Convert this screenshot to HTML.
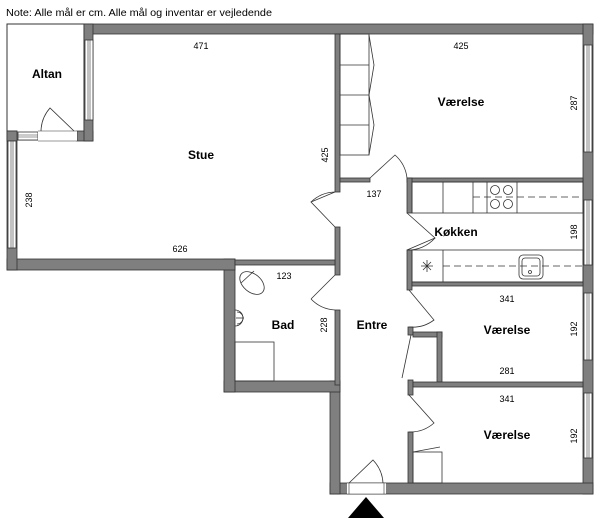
<!DOCTYPE html>
<html><head><meta charset="utf-8"><style>
html,body{margin:0;padding:0;background:#fff;}
svg{display:block;}
text{font-family:"Liberation Sans",sans-serif;fill:#000;}
.b{font-weight:bold;font-size:12px;}
.d{font-size:9px;}
</style></head><body>
<svg width="600" height="518" viewBox="0 0 600 518" xmlns="http://www.w3.org/2000/svg">
<text x="6" y="16" font-size="10.5" textLength="266" lengthAdjust="spacingAndGlyphs">Note: Alle mål er cm. Alle mål og inventar er vejledende</text>

<rect x="7" y="24" width="77" height="116" fill="#fff" stroke="#333" stroke-width="1"/>

<g fill="#7f7f7f" stroke="#333" stroke-width="0.8">
<rect x="84" y="24" width="509" height="10"/>
<rect x="583" y="24" width="10" height="470"/>
<rect x="330" y="483" width="263" height="11"/>
<rect x="330" y="381" width="10" height="113"/>
<rect x="224" y="381" width="116" height="11"/>
<rect x="224" y="259" width="11" height="133"/>
<rect x="7" y="259" width="228" height="11"/>
<rect x="7" y="131" width="10" height="139"/>
<rect x="7" y="131" width="10" height="10"/>
<rect x="77" y="131" width="16" height="10"/>
<rect x="84" y="24" width="9" height="117"/>
<rect x="335" y="34" width="5" height="158"/>
<rect x="335" y="227" width="5" height="48"/>
<rect x="335" y="310" width="5" height="75"/>
<rect x="235" y="260" width="100" height="5"/>
<rect x="340" y="178" width="30" height="4"/>
<rect x="407" y="178" width="176" height="4"/>
<rect x="407" y="178" width="5" height="35"/>
<rect x="407" y="250" width="5" height="40"/>
<rect x="412" y="282" width="171" height="4"/>
<rect x="408" y="327" width="5" height="8"/>
<rect x="408" y="380" width="5" height="15"/>
<rect x="413" y="332" width="29" height="5"/>
<rect x="437" y="332" width="5" height="50"/>
<rect x="413" y="382" width="170" height="5"/>
<rect x="408" y="432" width="5" height="51"/>
</g>

<g fill="#fff" stroke="#333" stroke-width="0.8">
<rect x="85" y="40" width="8" height="80"/>
<rect x="8" y="141" width="8" height="107"/>
<rect x="18" y="132" width="20" height="8"/>
<rect x="584" y="45" width="8" height="107"/>
<rect x="584" y="200" width="8" height="65"/>
<rect x="584" y="293" width="8" height="67"/>
<rect x="584" y="393" width="8" height="65"/>
<rect x="38" y="131" width="39" height="10" stroke="none"/>
<rect x="347" y="483" width="39" height="11" stroke="none"/>
</g>
<g stroke="#333" stroke-width="0.6" fill="none">
<line x1="88" y1="40" x2="88" y2="120"/><line x1="90" y1="40" x2="90" y2="120"/>
<line x1="11" y1="141" x2="11" y2="248"/><line x1="13" y1="141" x2="13" y2="248"/>
<line x1="18" y1="135" x2="38" y2="135"/><line x1="18" y1="137" x2="38" y2="137"/>
<line x1="587" y1="45" x2="587" y2="152"/><line x1="589" y1="45" x2="589" y2="152"/>
<line x1="587" y1="200" x2="587" y2="265"/><line x1="589" y1="200" x2="589" y2="265"/>
<line x1="587" y1="293" x2="587" y2="360"/><line x1="589" y1="293" x2="589" y2="360"/>
<line x1="587" y1="393" x2="587" y2="458"/><line x1="589" y1="393" x2="589" y2="458"/>
<line x1="38" y1="131" x2="77" y2="131"/><line x1="38" y1="141" x2="77" y2="141"/>
<line x1="347" y1="483" x2="386" y2="483"/><line x1="347" y1="494" x2="386" y2="494"/>
<line x1="349" y1="483" x2="349" y2="494"/><line x1="384" y1="483" x2="384" y2="494"/>
</g>

<g stroke="#333" stroke-width="0.8" fill="none">
<path d="M41 131 A36 36 0 0 1 50 108 L74 131"/>
<path d="M370 178 L395 155 A36 36 0 0 1 407 178"/>
<path d="M335 192 L311 202 L335 227"/>
<path d="M335 192 A36 36 0 0 0 311 202"/>
<path d="M407 213 L435 238 L407 250"/>
<path d="M435 238 A36 36 0 0 1 407 250"/>
<path d="M335 275 L311 299"/>
<path d="M311 299 A36 36 0 0 0 335 310"/>
<path d="M409 290 L434 320 A36 36 0 0 1 409 327"/>
<path d="M409 395 L434 423 A36 36 0 0 1 409 432"/>
<path d="M349 483 L373 460 A36 36 0 0 1 383 483"/>
<path d="M411 335 L402 378"/>
</g>

<g stroke="#333" stroke-width="0.8" fill="none">
<rect x="340" y="34" width="29" height="121"/>
<line x1="340" y1="65" x2="369" y2="65"/><line x1="340" y1="95" x2="369" y2="95"/><line x1="340" y1="125" x2="369" y2="125"/>
<path d="M369 35 L374 65 L369 95 L374 125 L369 155"/>
</g>

<g stroke="#333" stroke-width="0.8" fill="none">
<rect x="412" y="182" width="171" height="31"/>
<line x1="443" y1="182" x2="443" y2="213"/><line x1="473" y1="182" x2="473" y2="213"/><line x1="487" y1="182" x2="487" y2="213"/><line x1="517" y1="182" x2="517" y2="213"/>
<line x1="473" y1="197" x2="583" y2="197" stroke-dasharray="7 4"/>
<circle cx="495" cy="190" r="4.5"/><circle cx="508" cy="190" r="4.5"/><circle cx="495" cy="204" r="4.5"/><circle cx="508" cy="204" r="4.5"/>
<rect x="412" y="250" width="171" height="32"/>
<line x1="443" y1="250" x2="443" y2="282"/>
<line x1="443" y1="266" x2="583" y2="266" stroke-dasharray="7 4"/>
<rect x="519" y="255" width="24" height="24" rx="4"/>
<rect x="522" y="258" width="18" height="18" rx="3"/>
<circle cx="530" cy="272" r="1.5"/>
<path d="M421 266 L433 266 M427 260 L427 272 M423 262 L431 270 M431 262 L423 270"/>
</g>

<g stroke="#333" stroke-width="0.8" fill="none">
<rect x="235" y="342" width="39" height="39"/>
<ellipse cx="252" cy="283" rx="9" ry="14" transform="rotate(-50 252 283)"/>
<line x1="241" y1="283" x2="254" y2="271"/>
<path d="M235 310 A8 8 0 0 1 235 326"/>
<path d="M237 312 A6 6 0 0 1 237 324"/>
<line x1="236" y1="318" x2="244" y2="318"/>
<rect x="413" y="452" width="29" height="31"/>
<line x1="413" y1="452" x2="440" y2="447"/>
</g>

<polygon points="348,518 384,518 366,497" fill="#000"/>

<text class="b" x="47" y="78" text-anchor="middle">Altan</text>
<text class="b" x="201" y="159" text-anchor="middle">Stue</text>
<text class="b" x="461" y="106" text-anchor="middle">Værelse</text>
<text class="b" x="456" y="236" text-anchor="middle">Køkken</text>
<text class="b" x="283" y="329" text-anchor="middle">Bad</text>
<text class="b" x="372" y="329" text-anchor="middle">Entre</text>
<text class="b" x="507" y="334" text-anchor="middle">Værelse</text>
<text class="b" x="507" y="439" text-anchor="middle">Værelse</text>

<text class="d" x="201" y="49" text-anchor="middle">471</text>
<text class="d" x="461" y="49" text-anchor="middle">425</text>
<text class="d" x="180" y="252" text-anchor="middle">626</text>
<text class="d" x="374" y="197" text-anchor="middle">137</text>
<text class="d" x="284" y="279" text-anchor="middle">123</text>
<text class="d" x="507" y="302" text-anchor="middle">341</text>
<text class="d" x="507" y="374" text-anchor="middle">281</text>
<text class="d" x="507" y="402" text-anchor="middle">341</text>
<text class="d" transform="translate(32,200) rotate(-90)" text-anchor="middle">238</text>
<text class="d" transform="translate(328,155) rotate(-90)" text-anchor="middle">425</text>
<text class="d" transform="translate(577,103) rotate(-90)" text-anchor="middle">287</text>
<text class="d" transform="translate(577,232) rotate(-90)" text-anchor="middle">198</text>
<text class="d" transform="translate(327,325) rotate(-90)" text-anchor="middle">228</text>
<text class="d" transform="translate(577,329) rotate(-90)" text-anchor="middle">192</text>
<text class="d" transform="translate(577,436) rotate(-90)" text-anchor="middle">192</text>
</svg>
</body></html>
